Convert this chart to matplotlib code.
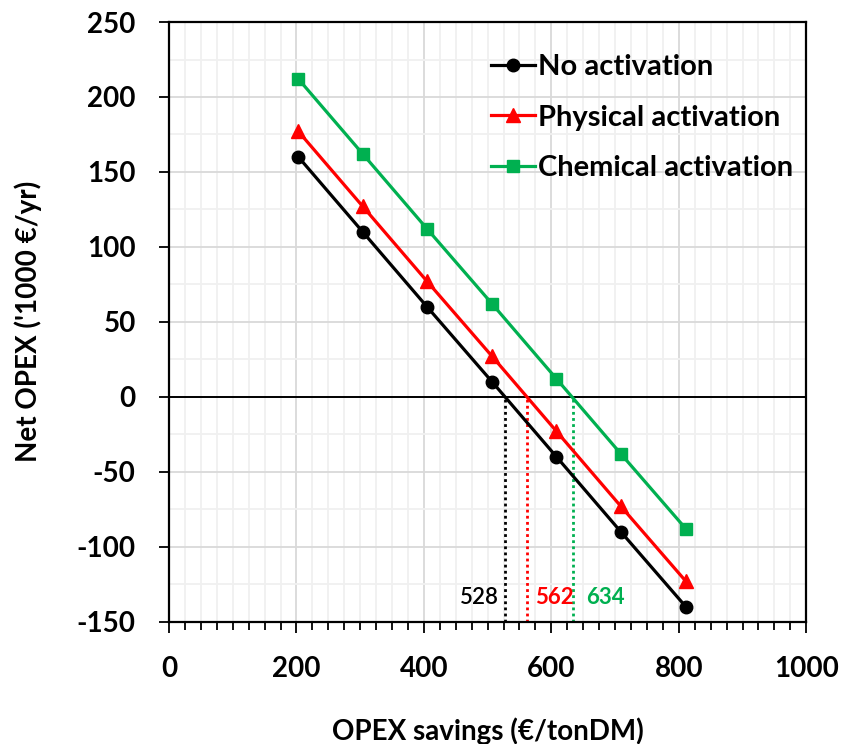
import matplotlib
matplotlib.use('Agg')
import matplotlib.pyplot as plt
from matplotlib.ticker import MultipleLocator

plt.rcParams['font.family'] = ['Lato', 'DejaVu Sans']
plt.rcParams['axes.unicode_minus'] = False

# OPEX savings (EUR/tonDM)
savings = [203, 304, 405, 507, 608, 709, 811]
no_act = [160, 110, 60, 10, -40, -90, -140]
phys_act = [177, 127, 77, 27, -23, -73, -123]
chem_act = [212, 162, 112, 62, 12, -38, -88]

# break-even savings
breakeven = [528, 562, 634]
breakeven_labels = ['528', '562', '634']

colors = ['black', '#ff0000', '#00b050']

fig = plt.figure(figsize=(8.46, 7.44), dpi=100)
ax = fig.add_axes([0.1998, 0.1644, 0.7532, 0.806])

ax.set_xlim(0, 1000)
ax.set_ylim(-150, 250)
ax.xaxis.set_major_locator(MultipleLocator(200))
ax.xaxis.set_minor_locator(MultipleLocator(25))
ax.yaxis.set_major_locator(MultipleLocator(50))
ax.yaxis.set_minor_locator(MultipleLocator(25))

ax.grid(which='major', color='#d9d9d9', lw=1.3, zorder=0)
ax.grid(which='minor', color='#f0f0f0', lw=1.3, zorder=0)
ax.set_axisbelow(True)

ax.axhline(0, color='black', lw=1.4, zorder=1)

for x, c in zip(breakeven, colors):
    ax.plot([x, x], [-150, 0], color=c, lw=2, ls=(0, (1, 1.2)), zorder=2)

ax.text(breakeven[0] - 10, -134, breakeven_labels[0], color=colors[0],
        fontsize=16, ha='right', va='center', fontweight='semibold')
ax.text(breakeven[1] + 12, -134, breakeven_labels[1], color=colors[1],
        fontsize=16, ha='left', va='center', fontweight='bold')
ax.text(breakeven[2] + 20, -134, breakeven_labels[2], color=colors[2],
        fontsize=16, ha='left', va='center', fontweight='bold')

ax.plot(savings, no_act, color=colors[0], lw=2.3, marker='o', ms=9,
        label='No activation', zorder=4)
ax.plot(savings, phys_act, color=colors[1], lw=2.3, marker='^', ms=10,
        label='Physical activation', zorder=4)
ax.plot(savings, chem_act, color=colors[2], lw=2.3, marker='s', ms=9,
        label='Chemical activation', zorder=4)

for s in ax.spines.values():
    s.set_linewidth(1.6)

ax.tick_params(axis='y', which='major', direction='out', length=7, width=1.3,
               pad=17, labelsize=20)
ax.tick_params(axis='y', which='minor', length=0)
ax.tick_params(axis='x', which='major', direction='out', length=8, width=1.3,
               pad=17, labelsize=20)
ax.tick_params(axis='x', which='minor', direction='out', length=5.5, width=1.3)
for lab in ax.get_xticklabels() + ax.get_yticklabels():
    lab.set_fontweight('bold')

ax.set_xlabel('OPEX savings (€/tonDM)', fontsize=20, fontweight='bold')
ax.set_ylabel("Net OPEX ('1000 €/yr)", fontsize=20, fontweight='bold')
ax.xaxis.set_label_coords(0.5, -0.16)
ax.yaxis.set_label_coords(-0.199, 0.5)

leg = ax.legend(loc='upper left', bbox_to_anchor=(0.5055, 0.947), frameon=False,
                prop={'size': 21, 'weight': 'bold'}, handlelength=1.5,
                handletextpad=0.1, labelspacing=0.85, borderaxespad=0,
                borderpad=0)

fig.savefig('out.png', dpi=100)
